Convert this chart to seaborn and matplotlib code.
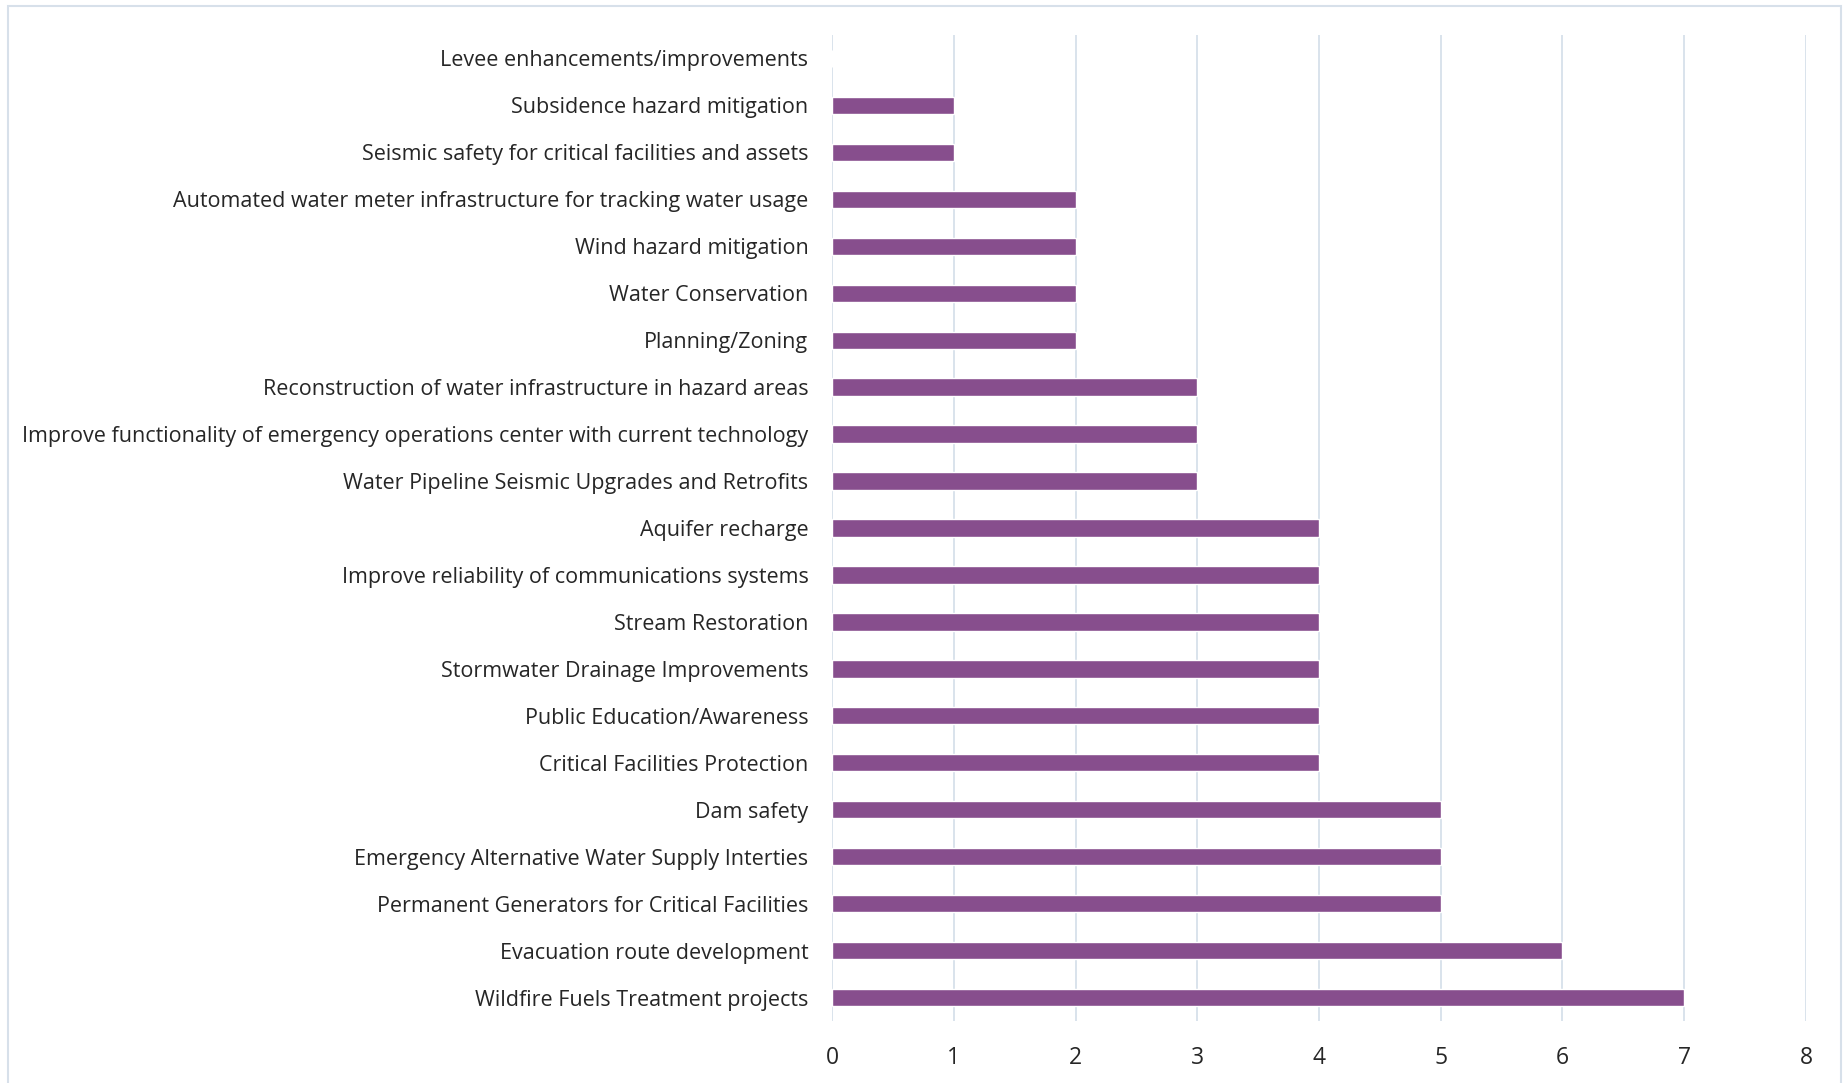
import matplotlib
matplotlib.use('Agg')
import matplotlib.pyplot as plt
import matplotlib.patches as patches
import seaborn as sns
import pandas as pd

# categories top to bottom, as in the reference
categories = [
    'Levee enhancements/improvements',
    'Subsidence hazard mitigation',
    'Seismic safety for critical facilities and assets',
    'Automated water meter infrastructure for tracking water usage',
    'Wind hazard mitigation',
    'Water Conservation',
    'Planning/Zoning',
    'Reconstruction of water infrastructure in hazard areas',
    'Improve functionality of emergency operations center with current technology',
    'Water Pipeline Seismic Upgrades and Retrofits',
    'Aquifer recharge',
    'Improve reliability of communications systems',
    'Stream Restoration',
    'Stormwater Drainage Improvements',
    'Public Education/Awareness',
    'Critical Facilities Protection',
    'Dam safety',
    'Emergency Alternative Water Supply Interties',
    'Permanent Generators for Critical Facilities',
    'Evacuation route development',
    'Wildfire Fuels Treatment projects',
]
counts = [0, 1, 1, 2, 2, 2, 2, 3, 3, 3, 4, 4, 4, 4, 4, 4, 5, 5, 5, 6, 7]
x_ticks = [0, 1, 2, 3, 4, 5, 6, 7, 8]

df = pd.DataFrame({'category': categories, 'count': counts})

sns.set_theme(style='white')
plt.rcParams['font.family'] = ['Open Sans', 'DejaVu Sans']

bar_color = '#874E8D'
grid_color = '#D7E0EA'
text_color = '#262626'

fig = plt.figure(figsize=(18.45, 10.83), dpi=100)
ax = fig.add_axes([832 / 1845, 1 - 1021 / 1083, (1806 - 832) / 1845, (1021 - 35) / 1083])

sns.barplot(data=df, x='count', y='category', orient='h', color=bar_color,
            width=0.37, saturation=1, ax=ax)

ax.set_xlim(0, 8)
ax.set_ylim(len(categories) - 0.5, -0.5)
ax.set_xticks(x_ticks)
ax.set_xticklabels([str(t) for t in x_ticks])
ax.set_xlabel('')
ax.set_ylabel('')
ax.xaxis.grid(True, color=grid_color, linewidth=1.3)
ax.set_axisbelow(True)
for s in ax.spines.values():
    s.set_visible(False)
ax.tick_params(axis='y', length=0, pad=17, labelsize=15.5, labelcolor=text_color)
ax.tick_params(axis='x', length=0, pad=18, labelsize=16.5, labelcolor=text_color)

# light outer frame around the chart area
frame = patches.Rectangle((8 / 1845, -0.02), (1841 - 8) / 1845, 1.02 - 6 / 1083,
                          transform=fig.transFigure, fill=False,
                          edgecolor=grid_color, linewidth=1.5)
fig.patches.append(frame)

fig.savefig('out.png', dpi=100)
